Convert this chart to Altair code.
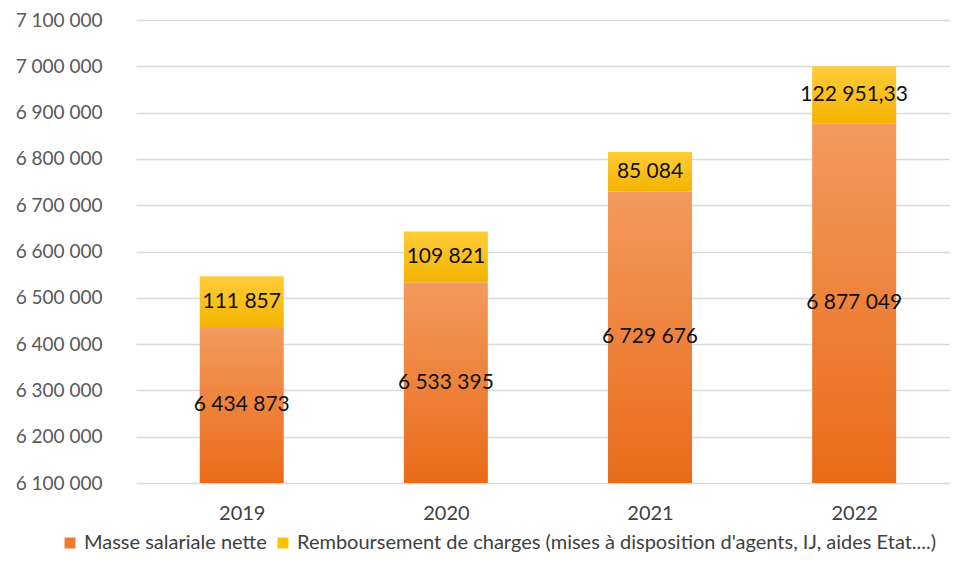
import altair as alt
import pandas as pd

years = [2019, 2020, 2021, 2022]
masse = [6434873, 6533395, 6729676, 6877049]
remb = [111857, 109821, 85084, 122951.33]
series_names = ["Masse salariale nette",
                "Remboursement de charges (mises à disposition d'agents, IJ, aides Etat....)"]
y_ticks = [6100000, 6200000, 6300000, 6400000, 6500000, 6600000,
           6700000, 6800000, 6900000, 7000000, 7100000]
y_min, y_max = 6100000, 7100000


def fr(v):
    if float(v).is_integer():
        return f"{int(v):,}".replace(",", " ")
    s = f"{v:,.2f}"
    ip, dp = s.split(".")
    return ip.replace(",", " ") + "," + dp


rows = []
for yr, m, r in zip(years, masse, remb):
    rows.append(dict(year=yr, series=series_names[0], start=y_min, end=m,
                     mid=(y_min + m) / 2, label=fr(m)))
    rows.append(dict(year=yr, series=series_names[1], start=m, end=m + r,
                     mid=m + r / 2, label=fr(r)))
df = pd.DataFrame(rows)

FONT = "Lato"
orange_grad = alt.Gradient(gradient="linear", x1=0, x2=0, y1=0, y2=1,
                           stops=[alt.GradientStop(color="#F39A5E", offset=0),
                                  alt.GradientStop(color="#E96B18", offset=1)])
yellow_grad = alt.Gradient(gradient="linear", x1=0, x2=0, y1=0, y2=1,
                           stops=[alt.GradientStop(color="#FFCC3A", offset=0),
                                  alt.GradientStop(color="#F3B400", offset=1)])

x_enc = alt.X("year:Q",
              scale=alt.Scale(domain=[2018.5065, 2022.445], nice=False, zero=False),
              axis=alt.Axis(values=years, format="d", title=None, grid=False,
                            ticks=False, tickSize=0, domain=False, labelPadding=20,
                            labelFontSize=20, labelColor="#404040", labelFont=FONT))
y_axis = alt.Axis(values=y_ticks, title=None, grid=True, gridColor="#D9D9D9",
                  gridWidth=1.5, ticks=False, tickSize=0, domain=False,
                  labelPadding=34, labelFontSize=19, labelColor="#595959",
                  labelFont=FONT,
                  labelExpr="replace(format(datum.value, ',d'), regexp(',', 'g'), ' ')")
y_scale = alt.Scale(domain=[y_min, y_max], nice=False, zero=False)

base = alt.Chart(df)

bars_o = base.transform_filter(alt.datum.series == series_names[0]).mark_bar(
    fill=orange_grad, size=84).encode(
    x=x_enc, y=alt.Y("start:Q", scale=y_scale, axis=y_axis), y2="end:Q")
bars_y = base.transform_filter(alt.datum.series == series_names[1]).mark_bar(
    fill=yellow_grad, size=84).encode(
    x="year:Q", y="start:Q", y2="end:Q")
labels = base.mark_text(font=FONT, fontSize=21, color="#111111").encode(
    x="year:Q", y="mid:Q", text="label:N")
legend_layer = base.mark_square(opacity=0).encode(
    x="year:Q", y="mid:Q",
    color=alt.Color("series:N",
                    scale=alt.Scale(domain=series_names, range=["#EC7A30", "#FFC000"]),
                    legend=alt.Legend(title=None, orient="none", legendX=-76, legendY=513,
                                      direction="horizontal", symbolType="square",
                                      symbolSize=120, symbolOpacity=1, symbolStrokeWidth=0,
                                      labelFontSize=20, labelFont=FONT, labelColor="#404040",
                                      columnPadding=6, labelOffset=4, labelLimit=900)))

chart = alt.layer(bars_o, bars_y, labels, legend_layer).properties(
    width=814, height=463,
    padding={"left": 128, "top": 12, "right": 0, "bottom": 70},
    autosize=alt.AutoSizeParams(type="none"),
    background="white",
).configure_view(stroke=None)

chart.save("out.html", embed_options={"renderer": "svg", "actions": False})
